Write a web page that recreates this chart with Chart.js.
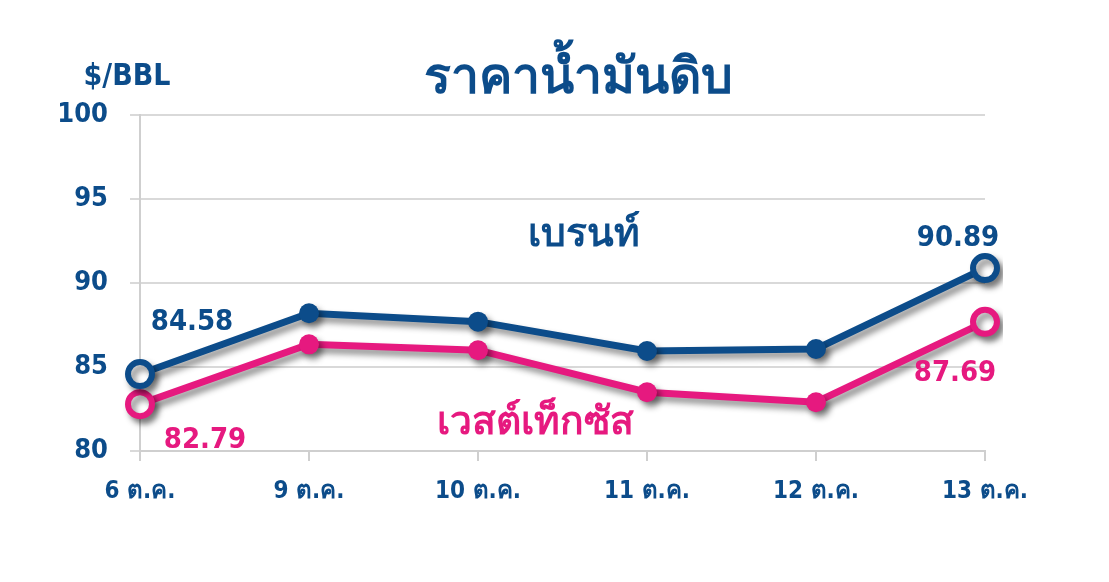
<!DOCTYPE html>
<html>
<head>
<meta charset="utf-8">
<script src="https://cdn.jsdelivr.net/npm/chart.js@4.4.0/dist/chart.umd.min.js"></script>
<style>
  html, body { margin: 0; padding: 0; background: #fff; }
  #wrap { width: 1109px; height: 582px; }
</style>
</head>
<body>
<div id="wrap"><canvas id="plot-crude"></canvas></div>
<script>
const dates = ["6 ต.ค.", "9 ต.ค.", "10 ต.ค.", "11 ต.ค.", "12 ต.ค.", "13 ต.ค."];
const brent = [84.58, 88.2, 87.7, 85.95, 86.07, 90.89];
const wti = [82.79, 86.35, 86.0, 83.5, 82.9, 87.69];
const yTicks = [80, 85, 90, 95, 100];

const BLUE = "#0c4c8a";
const PINK = "#e6197f";
const FONT = "'DejaVu Sans Condensed', 'DejaVu Sans', sans-serif";

function endPoints(mid, end) {
  return dates.map((d, i) => (i === 0 || i === dates.length - 1 ? end : mid));
}

const shadowPlugin = {
  id: "shadow",
  beforeDatasetsDraw(chart) {
    const ctx = chart.ctx;
    ctx.save();
    ctx.shadowColor = "rgba(0,0,0,0.45)";
    ctx.shadowOffsetX = 4;
    ctx.shadowOffsetY = 5;
    ctx.shadowBlur = 6;
  },
  afterDatasetsDraw(chart) {
    chart.ctx.restore();
  },
};

const textPlugin = {
  id: "texts",
  afterDraw(chart) {
    const ctx = chart.ctx;
    const x = chart.scales.x;
    const y = chart.scales.y;
    const at = (i, v) => {
      const lo = Math.floor(i);
      const hi = Math.min(lo + 1, dates.length - 1);
      const px = x.getPixelForValue(lo) + (x.getPixelForValue(hi) - x.getPixelForValue(lo)) * (i - lo);
      return [px, y.getPixelForValue(v)];
    };
    ctx.save();
    ctx.textAlign = "center";
    ctx.textBaseline = "middle";

    // title
    ctx.fillStyle = BLUE;
    ctx.font = "bold 50px " + FONT;
    ctx.fillText("ราคาน้ำมันดิบ", 578, 80);
    ctx.font = "bold 30px " + FONT;
    ctx.fillText("$/BBL", 127, 77);

    // value labels at first and last points
    const last = dates.length - 1;
    ctx.font = "bold 29px " + FONT;
    const labels = [
      [brent, 0, BLUE, 52, -52],
      [wti, 0, PINK, 65, 36],
      [brent, last, BLUE, -27, -30],
      [wti, last, PINK, -30, 52],
    ];
    labels.forEach(([series, i, color, dx, dy]) => {
      const [px, py] = at(i, series[i]);
      ctx.fillStyle = color;
      ctx.fillText(series[i].toFixed(2), px + dx, py + dy);
    });

    // series names
    ctx.font = "bold 39px " + FONT;
    ctx.fillStyle = BLUE;
    let p = at(2.63, 92.8);
    ctx.fillText("เบรนท์", p[0], p[1]);
    ctx.fillStyle = PINK;
    p = at(2.34, 81.6);
    ctx.fillText("เวสต์เท็กซัส", p[0], p[1]);
    ctx.restore();
  },
};

function lineSet(label, data, color) {
  return {
    label: label,
    data: data,
    borderColor: color,
    borderWidth: 7,
    pointRadius: endPoints(10, 12),
    pointHoverRadius: endPoints(10, 12),
    pointBackgroundColor: endPoints(color, "#ffffff"),
    pointBorderColor: color,
    pointBorderWidth: endPoints(0, 6),
    tension: 0,
  };
}

new Chart(document.getElementById("plot-crude"), {
  type: "line",
  data: {
    labels: dates,
    datasets: [lineSet("เบรนท์", brent, BLUE), lineSet("เวสต์เท็กซัส", wti, PINK)],
  },
  options: {
    responsive: true,
    maintainAspectRatio: false,
    animation: false,
    layout: { padding: { left: 0, right: 124, top: 115, bottom: 71 } },
    plugins: { legend: { display: false }, tooltip: { enabled: false } },
    scales: {
      x: {
        offset: false,
        afterFit(scale) { scale.height = 60; },
        grid: { drawOnChartArea: false, drawTicks: true, tickLength: 10, color: "#cfcfcf", lineWidth: 2 },
        border: { color: "#cfcfcf", width: 2 },
        ticks: { color: BLUE, font: { family: FONT, size: 24, weight: "bold" }, padding: 16, maxRotation: 0 },
      },
      y: {
        min: 80,
        max: 100,
        afterFit(scale) { scale.width = 140; },
        afterBuildTicks(scale) { scale.ticks = yTicks.map((v) => ({ value: v })); },
        grid: { color: "#d9d9d9", lineWidth: 2, tickLength: 10 },
        border: { color: "#cfcfcf", width: 2 },
        ticks: { color: BLUE, font: { family: FONT, size: 27, weight: "bold" }, padding: 22 },
      },
    },
  },
  plugins: [shadowPlugin, textPlugin],
});
</script>
</body>
</html>
